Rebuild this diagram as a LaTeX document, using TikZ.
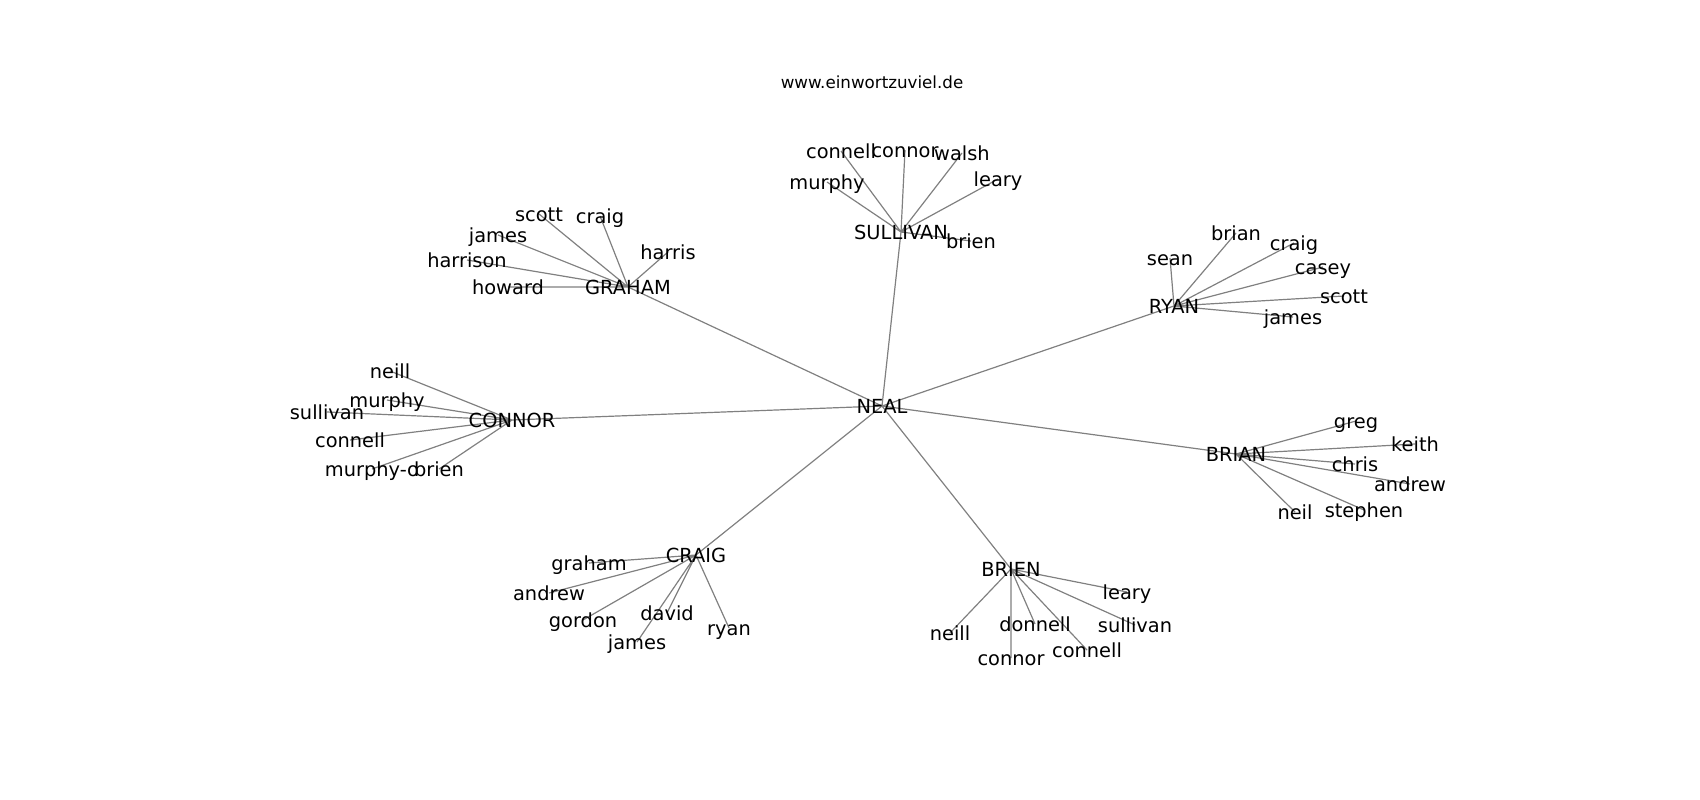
\documentclass[tikz,border=0pt]{standalone}
\usepackage{fontspec}
\setmainfont{DejaVu Sans}
\usetikzlibrary{backgrounds}
\tikzset{word/.style={font=\fontsize{19.4}{23}\selectfont, inner sep=0pt, text height=18pt, text depth=4pt}}
\tikzset{link/.style={draw=black!50, line width=1.2pt}}

\begin{document}
\begin{tikzpicture}[x=1pt,y=-1pt]
        \useasboundingbox (0,0) rectangle (1700,800);
        \node[font=\fontsize{16.7}{20}\selectfont] (site) at (872,82) {www.einwortzuviel.de};
     % centre
     \node[word] (neal) at (882,406) {NEAL};
     % SULLIVAN
     \node[word] (sul) at (901,232) {SULLIVAN};
      \node[word] (sul-connell) at (841,151) {connell};
      \node[word] (sul-connor) at (905,150) {connor};
      \node[word] (sul-walsh) at (962,153) {walsh};
      \node[word] (sul-leary) at (998,179) {leary};
      \node[word] (sul-murphy) at (827,182) {murphy};
      \node[word] (sul-brien) at (971,241) {brien};
     % GRAHAM
     \node[word] (gra) at (628,287) {GRAHAM};
      \node[word] (gra-scott) at (539,214) {scott};
      \node[word] (gra-craig) at (600,216) {craig};
      \node[word] (gra-james) at (498,235) {james};
      \node[word] (gra-harrison) at (467,260) {harrison};
      \node[word] (gra-harris) at (668,252) {harris};
      \node[word] (gra-howard) at (508,287) {howard};
     % CONNOR
     \node[word] (con) at (512,420) {CONNOR};
      \node[word] (con-neill) at (390,371) {neill};
      \node[word] (con-murphy) at (387,400) {murphy};
      \node[word] (con-sullivan) at (327,412) {sullivan};
      \node[word] (con-connell) at (350,440) {connell};
      \node[word] (con-murphyo) at (372,469) {murphy-o};
      \node[word] (con-brien) at (439,469) {brien};
     % RYAN
     \node[word] (rya) at (1174,306) {RYAN};
      \node[word] (rya-sean) at (1170,258) {sean};
      \node[word] (rya-brian) at (1236,233) {brian};
      \node[word] (rya-craig) at (1294,243) {craig};
      \node[word] (rya-casey) at (1323,267) {casey};
      \node[word] (rya-scott) at (1344,296) {scott};
      \node[word] (rya-james) at (1293,317) {james};
     % BRIAN
     \node[word] (bri) at (1236,454) {BRIAN};
      \node[word] (bri-greg) at (1356,421) {greg};
      \node[word] (bri-keith) at (1415,444) {keith};
      \node[word] (bri-chris) at (1355,464) {chris};
      \node[word] (bri-andrew) at (1410,484) {andrew};
      \node[word] (bri-neil) at (1295,512) {neil};
      \node[word] (bri-stephen) at (1364,510) {stephen};
     % CRAIG
     \node[word] (cra) at (696,555) {CRAIG};
      \node[word] (cra-graham) at (589,563) {graham};
      \node[word] (cra-andrew) at (549,593) {andrew};
      \node[word] (cra-gordon) at (583,620) {gordon};
      \node[word] (cra-david) at (667,613) {david};
      \node[word] (cra-james) at (637,642) {james};
      \node[word] (cra-ryan) at (729,628) {ryan};
     % BRIEN
     \node[word] (bre) at (1011,569) {BRIEN};
      \node[word] (bre-leary) at (1127,592) {leary};
      \node[word] (bre-neill) at (950,633) {neill};
      \node[word] (bre-donnell) at (1035,624) {donnell};
      \node[word] (bre-sullivan) at (1135,625) {sullivan};
      \node[word] (bre-connor) at (1011,658) {connor};
      \node[word] (bre-connell) at (1087,650) {connell};
   \begin{pgfonlayer}{background}
    \draw[link] (neal.center) -- (sul.center) (neal.center) -- (gra.center)
      (neal.center) -- (con.center) (neal.center) -- (rya.center)
      (neal.center) -- (bri.center) (neal.center) -- (cra.center)
      (neal.center) -- (bre.center);
    \draw[link] (sul.center) -- (sul-connell.center) (sul.center) -- (sul-connor.center)
      (sul.center) -- (sul-walsh.center) (sul.center) -- (sul-leary.center)
      (sul.center) -- (sul-murphy.center) (sul.center) -- (sul-brien.center);
    \draw[link] (gra.center) -- (gra-scott.center) (gra.center) -- (gra-craig.center)
      (gra.center) -- (gra-james.center) (gra.center) -- (gra-harrison.center)
      (gra.center) -- (gra-harris.center) (gra.center) -- (gra-howard.center);
    \draw[link] (con.center) -- (con-neill.center) (con.center) -- (con-murphy.center)
      (con.center) -- (con-sullivan.center) (con.center) -- (con-connell.center)
      (con.center) -- (con-murphyo.center) (con.center) -- (con-brien.center);
    \draw[link] (rya.center) -- (rya-sean.center) (rya.center) -- (rya-brian.center)
      (rya.center) -- (rya-craig.center) (rya.center) -- (rya-casey.center)
      (rya.center) -- (rya-scott.center) (rya.center) -- (rya-james.center);
    \draw[link] (bri.center) -- (bri-greg.center) (bri.center) -- (bri-keith.center)
      (bri.center) -- (bri-chris.center) (bri.center) -- (bri-andrew.center)
      (bri.center) -- (bri-neil.center) (bri.center) -- (bri-stephen.center);
    \draw[link] (cra.center) -- (cra-graham.center) (cra.center) -- (cra-andrew.center)
      (cra.center) -- (cra-gordon.center) (cra.center) -- (cra-david.center)
      (cra.center) -- (cra-james.center) (cra.center) -- (cra-ryan.center);
    \draw[link] (bre.center) -- (bre-leary.center) (bre.center) -- (bre-neill.center)
      (bre.center) -- (bre-donnell.center) (bre.center) -- (bre-sullivan.center)
      (bre.center) -- (bre-connor.center) (bre.center) -- (bre-connell.center);
   \end{pgfonlayer}
         \end{tikzpicture}
\end{document}
